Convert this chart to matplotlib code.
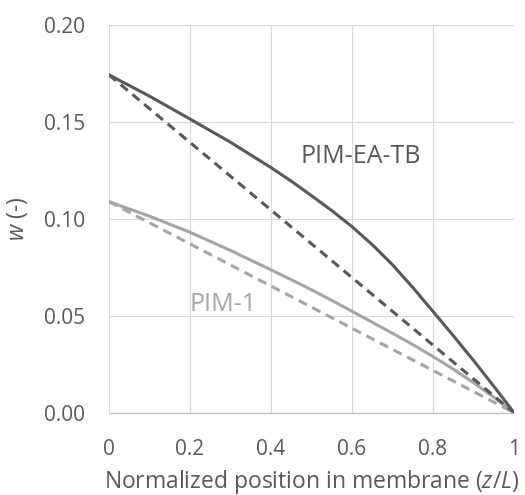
# concentration profiles across the membrane for two PIMs
# solid = computed profile, dashed = linear profile

import matplotlib

matplotlib.use('Agg')
import matplotlib.pyplot as plt

plt.rcParams['font.family'] = ['Open Sans', 'DejaVu Sans']
plt.rcParams['mathtext.fontset'] = 'custom'
plt.rcParams['mathtext.rm'] = 'Open Sans'
plt.rcParams['mathtext.it'] = 'Open Sans:italic'

# data
z_pos = [0.0, 0.1, 0.2, 0.3, 0.4, 0.45, 0.5, 0.55, 0.6, 0.65, 0.7, 0.75,
         0.8, 0.85, 0.9, 0.95, 1.0]
w_ea_tb = [0.1745, 0.1635, 0.1517, 0.1397, 0.1266, 0.1196, 0.1121, 0.1044,
           0.0961, 0.0868, 0.0764, 0.0647, 0.0523, 0.0398, 0.0270, 0.0137, 0.0]
w_pim1 = [0.109, 0.1015, 0.0932, 0.0838, 0.0738, 0.0687, 0.0635, 0.0580,
          0.0524, 0.0467, 0.041, 0.0352, 0.029, 0.0225, 0.0155, 0.0080, 0.0]
lin_z = [0.0, 1.0]
lin_ea_tb = [0.1745, 0.0]
lin_pim1 = [0.109, 0.0]
x_ticks = [0, 0.2, 0.4, 0.6, 0.8, 1]
x_labels = ['0', '0.2', '0.4', '0.6', '0.8', '1']
y_ticks = [0.0, 0.05, 0.10, 0.15, 0.20]
y_labels = ['0.00', '0.05', '0.10', '0.15', '0.20']

DARK = '#595959'
LIGHT = '#a6a6a6'
TEXT = '#595959'


def main():
    fig = plt.figure(figsize=(5.25, 4.95), dpi=100, facecolor='w')
    ax = fig.add_axes([0.2076, 0.1663, 0.7714, 0.7822])

    # lines
    ax.plot(lin_z, lin_pim1, color=LIGHT, lw=2.2, linestyle=(0, (3, 2)))
    ax.plot(z_pos, w_pim1, color=LIGHT, lw=2.2)
    ax.plot(lin_z, lin_ea_tb, color=DARK, lw=2.2, linestyle=(0, (3, 2)))
    ax.plot(z_pos, w_ea_tb, color=DARK, lw=2.2)

    # series labels
    ax.text(0.474, 0.1322, 'PIM-EA-TB', color=DARK, fontsize=18, va='center')
    ax.text(0.198, 0.0558, 'PIM-1', color=LIGHT, fontsize=18, va='center')

    # axes and grid
    ax.set_xlim(0, 1)
    ax.set_ylim(0, 0.20)
    ax.set_xticks(x_ticks, x_labels)
    ax.set_yticks(y_ticks, y_labels)
    ax.grid(True, color='#d9d9d9', lw=0.8)
    ax.set_axisbelow(True)
    for side in ['top', 'right', 'left']:
        ax.spines[side].set_visible(False)
    ax.spines['bottom'].set_color('#bfbfbf')
    ax.spines['bottom'].set_linewidth(0.9)
    ax.tick_params(length=0, labelsize=15, labelcolor=TEXT)
    ax.tick_params(axis='y', pad=17)
    ax.tick_params(axis='x', pad=19)

    ax.set_xlabel('Normalized position in membrane ($z$/$L$)', fontsize=16.5,
                  color=TEXT, labelpad=6)
    ax.set_ylabel('$w$ (-)', fontsize=16.5, color=TEXT, labelpad=10)

    fig.savefig('out.png', dpi=100)


if __name__ == '__main__':
    main()
